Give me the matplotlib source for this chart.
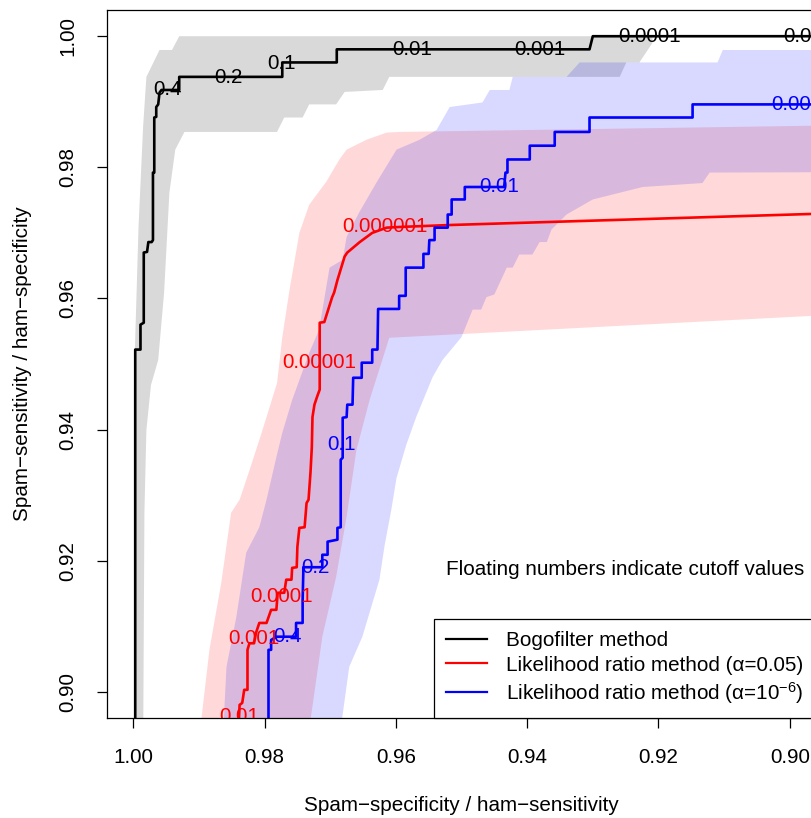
import numpy as np
import matplotlib
matplotlib.use("Agg")
import matplotlib.pyplot as plt

plt.rcParams['font.family'] = ['Liberation Sans', 'DejaVu Sans']
plt.rcParams['mathtext.fontset'] = 'custom'
plt.rcParams['mathtext.rm'] = 'Liberation Sans'
plt.rcParams['mathtext.it'] = 'Liberation Sans:italic'
FS = 14.9

# ROC curves (x = spam-specificity, y = spam-sensitivity)
bogo_x = [0.9997, 0.9997, 0.9989, 0.9989, 0.9984, 0.9984, 0.9979, 0.9977, 0.9972, 0.9970,
          0.9970, 0.9968, 0.9968, 0.9965, 0.9965, 0.9962, 0.9960, 0.9957, 0.9930, 0.9930,
          0.9773, 0.9773, 0.9690, 0.9690, 0.9305, 0.9300, 0.88]
bogo_y = [0.89, 0.9522, 0.9522, 0.9560, 0.9563, 0.9670, 0.9671, 0.9686, 0.9686, 0.9689,
          0.9792, 0.9792, 0.9876, 0.9877, 0.9892, 0.9896, 0.9914, 0.9918, 0.9918, 0.9938,
          0.9938, 0.9960, 0.9960, 0.9980, 0.9980, 1.0, 1.0]

lr05_x = [0.9842, 0.9838, 0.9834, 0.9831, 0.9826, 0.9826, 0.9823, 0.9816, 0.9813, 0.9808,
          0.9797, 0.9790, 0.9782, 0.9780, 0.9770, 0.9767, 0.9759, 0.9758, 0.9751, 0.9750,
          0.9747, 0.9739, 0.9736, 0.9733, 0.9730, 0.9728, 0.9727, 0.9724, 0.9720, 0.9716,
          0.9716, 0.9709, 0.9697, 0.9694, 0.9689, 0.9678, 0.9674, 0.9655, 0.9636, 0.9614,
          0.9595, 0.9518, 0.88]
lr05_y = [0.89, 0.8980, 0.8983, 0.9003, 0.9003, 0.9064, 0.9074, 0.9074, 0.9090, 0.9105,
          0.9105, 0.9125, 0.9125, 0.9151, 0.9151, 0.9171, 0.9171, 0.9189, 0.9190, 0.9221,
          0.9250, 0.9251, 0.9288, 0.9293, 0.9335, 0.9373, 0.9419, 0.9438, 0.9450, 0.9461,
          0.9563, 0.9564, 0.9602, 0.9609, 0.9628, 0.9664, 0.9670, 0.9686, 0.9700, 0.9708,
          0.9709, 0.9712, 0.9734]

lr6_x = [0.9794, 0.9794, 0.9790, 0.9790, 0.9782, 0.9752, 0.9752, 0.9742, 0.9742, 0.9741,
         0.9741, 0.9712, 0.9712, 0.9704, 0.9704, 0.9689, 0.9689, 0.9684, 0.9684, 0.9681,
         0.9681, 0.9675, 0.9674, 0.9666, 0.9665, 0.9652, 0.9652, 0.9636, 0.9636, 0.9628,
         0.9627, 0.9595, 0.9595, 0.9585, 0.9585, 0.9558, 0.9558, 0.9550, 0.9549, 0.9541,
         0.9541, 0.9521, 0.9521, 0.9515, 0.9515, 0.9495, 0.9495, 0.9435, 0.9433, 0.9430,
         0.9430, 0.9396, 0.9396, 0.9358, 0.9358, 0.9305, 0.9305, 0.9148, 0.9148, 0.88]
lr6_y = [0.89, 0.9064, 0.9064, 0.9079, 0.9084, 0.9084, 0.9105, 0.9105, 0.9140, 0.9181,
         0.9190, 0.9190, 0.9209, 0.9209, 0.9229, 0.9232, 0.9250, 0.9251, 0.9354, 0.9357,
         0.9418, 0.9419, 0.9438, 0.9438, 0.9479, 0.9479, 0.9502, 0.9502, 0.9522, 0.9522,
         0.9584, 0.9584, 0.9604, 0.9604, 0.9647, 0.9647, 0.9668, 0.9668, 0.9689, 0.9689,
         0.9708, 0.9708, 0.9728, 0.9728, 0.9751, 0.9751, 0.9770, 0.9770, 0.9792, 0.9792,
         0.9812, 0.9812, 0.9833, 0.9833, 0.9854, 0.9854, 0.9876, 0.9876, 0.9896, 0.9896]

# confidence bands: upper (outer) and lower (inner) edges
bogo_up_x = [0.9999, 0.9999, 0.9998, 0.9992, 0.9985, 0.9980, 0.9960, 0.9941, 0.9930, 0.9209]
bogo_up_y = [0.89, 0.9461, 0.9506, 0.9709, 0.9862, 0.9938, 0.9979, 0.9979, 1.0, 1.0]
bogo_lo_x = [0.9985, 0.9983, 0.9980, 0.9973, 0.9962, 0.9953, 0.9945, 0.9936, 0.9922, 0.9781,
             0.9770, 0.9742, 0.9732, 0.9691, 0.9678, 0.9620, 0.9610, 0.9259, 0.9249, 0.9229,
             0.9209, 0.9209]
bogo_lo_y = [0.89, 0.9273, 0.9399, 0.9468, 0.9506, 0.9609, 0.9761, 0.9827, 0.9854, 0.9854,
             0.9876, 0.9876, 0.9896, 0.9896, 0.9915, 0.9918, 0.9938, 0.9938, 0.9960, 0.9960,
             0.9990, 1.0]

lr05_up_x = [0.9903, 0.9884, 0.9866, 0.9851, 0.9838, 0.9823, 0.9808, 0.9797, 0.9781, 0.9773,
             0.9762, 0.9747, 0.9732, 0.9706, 0.9686, 0.9675, 0.9645, 0.9614, 0.9595, 0.88]
lr05_up_y = [0.89, 0.9064, 0.9166, 0.9273, 0.9293, 0.9338, 0.9384, 0.9419, 0.9471, 0.9541,
             0.9613, 0.9700, 0.9743, 0.9778, 0.9812, 0.9827, 0.9842, 0.9853, 0.9854, 0.9866]
lr05_lo_x = [0.9738, 0.9712, 0.9691, 0.9675, 0.9660, 0.9640, 0.9610, 0.88]
lr05_lo_y = [0.89, 0.9084, 0.9175, 0.9267, 0.9369, 0.9445, 0.9540, 0.9582]

lr6_up_x = [0.9865, 0.9858, 0.9843, 0.9828, 0.9808, 0.9797, 0.9782, 0.9773, 0.9758, 0.9732,
            0.9717, 0.9701, 0.9681, 0.9675, 0.9656, 0.9630, 0.9599, 0.9564, 0.9538, 0.9518,
            0.9468, 0.9457, 0.9427, 0.9422, 0.9340, 0.9320, 0.9110, 0.9102, 0.88]
lr6_up_y = [0.89, 0.9038, 0.9114, 0.9212, 0.9251, 0.9293, 0.9358, 0.9395, 0.9445, 0.9517,
            0.9552, 0.9647, 0.9659, 0.9694, 0.9731, 0.9776, 0.9827, 0.9842, 0.9857, 0.9892,
            0.9899, 0.9918, 0.9918, 0.9938, 0.9938, 0.9960, 0.9960, 0.9979, 0.9979]
lr6_lo_x = [0.9690, 0.9671, 0.9651, 0.9625, 0.9617, 0.9607, 0.9599, 0.9584, 0.9569, 0.9544,
            0.9529, 0.9500, 0.9483, 0.9470, 0.9462, 0.9450, 0.9431, 0.9422, 0.9412, 0.9392,
            0.9381, 0.9370, 0.9363, 0.9340, 0.9300, 0.9224, 0.9133, 0.9122, 0.88]
lr6_lo_y = [0.89, 0.9038, 0.9084, 0.9171, 0.9224, 0.9277, 0.9326, 0.9377, 0.9419, 0.9480,
            0.9506, 0.9541, 0.9583, 0.9583, 0.9602, 0.9606, 0.9647, 0.9647, 0.9667, 0.9667,
            0.9686, 0.9686, 0.9705, 0.9728, 0.9751, 0.9770, 0.9776, 0.9792, 0.9793]

# cutoff labels floating on the curves
bogo_lab = ["0.4", "0.2", "0.1", "0.01", "0.001", "0.0001", "0.00001"]
bogo_lab_x = [0.9948, 0.9855, 0.9774, 0.9575, 0.9380, 0.9213, 0.8953]
bogo_lab_y = [0.9918, 0.9937, 0.9958, 0.9979, 0.9979, 1.0, 1.0]
lr05_lab = ["0.000001", "0.00001", "0.0001", "0.001", "0.01"]
lr05_lab_x = [0.9616, 0.9717, 0.9774, 0.9816, 0.9838]
lr05_lab_y = [0.9709, 0.9502, 0.9145, 0.9082, 0.8963]
lr6_lab = ["0.4", "0.2", "0.1", "0.01", "0.001"]
lr6_lab_x = [0.9765, 0.9723, 0.9683, 0.9442, 0.8989]
lr6_lab_y = [0.9084, 0.9189, 0.9377, 0.9770, 0.9896]

legend_labels = ["Bogofilter method",
                 "Likelihood ratio method (\u03b1=0.05)",
                 "Likelihood ratio method (\u03b1=10$^{-6}$)"]


def band(ax, ux, uy, lx, ly, color):
    px = np.concatenate([ux, lx[::-1]])
    py = np.concatenate([uy, ly[::-1]])
    ax.fill(px, py, color=color, alpha=0.15, lw=0)


fig = plt.figure(figsize=(8.12, 8.18), dpi=100)
ax = fig.add_axes([107 / 812, 100 / 818, 709 / 812, 708 / 818])

band(ax, bogo_up_x, bogo_up_y, bogo_lo_x, bogo_lo_y, 'black')
l1, = ax.plot(bogo_x, bogo_y, color='black', lw=1.9)
band(ax, lr05_up_x, lr05_up_y, lr05_lo_x, lr05_lo_y, 'red')
l2, = ax.plot(lr05_x, lr05_y, color='red', lw=1.9)
band(ax, lr6_up_x, lr6_up_y, lr6_lo_x, lr6_lo_y, 'blue')
l3, = ax.plot(lr6_x, lr6_y, color='blue', lw=1.9)

for labs, xs, ys, c in [(bogo_lab, bogo_lab_x, bogo_lab_y, 'black'),
                        (lr05_lab, lr05_lab_x, lr05_lab_y, 'red'),
                        (lr6_lab, lr6_lab_x, lr6_lab_y, 'blue')]:
    for t, x, y in zip(labs, xs, ys):
        ax.text(x, y, t, color=c, fontsize=FS, ha='center', va='center', clip_on=True)

ax.text(0.9251, 0.9186, "Floating numbers indicate cutoff values", fontsize=FS,
        ha='center', va='center')

leg = ax.legend([l1, l2, l3], legend_labels, loc='lower right', bbox_to_anchor=(1, 0),
                borderaxespad=0, fontsize=FS, fancybox=False, framealpha=1,
                edgecolor='black', handlelength=2.0, handletextpad=0.9,
                labelspacing=0.25, borderpad=0.6)
leg.get_frame().set_linewidth(0.9)
for h in leg.get_lines():
    h.set_linewidth(1.6)

ax.set_xlim(1.004, 0.896)
ax.set_ylim(0.896, 1.004)
ticks = [1.00, 0.98, 0.96, 0.94, 0.92, 0.90]
ax.set_xticks(ticks)
ax.set_yticks(ticks)
ax.set_xticklabels(["%.2f" % t for t in ticks])
ax.set_yticklabels(["%.2f" % t for t in ticks], rotation=90, va='center')
ax.tick_params(labelsize=FS, length=7, width=0.9, pad=14.5)
for s in ax.spines.values():
    s.set_linewidth(0.9)

ax.set_xlabel("Spam\u2212specificity / ham\u2212sensitivity", fontsize=FS, labelpad=21)
ax.set_ylabel("Spam\u2212sensitivity / ham\u2212specificity", fontsize=FS, labelpad=19)

fig.savefig("out.png", dpi=100)
